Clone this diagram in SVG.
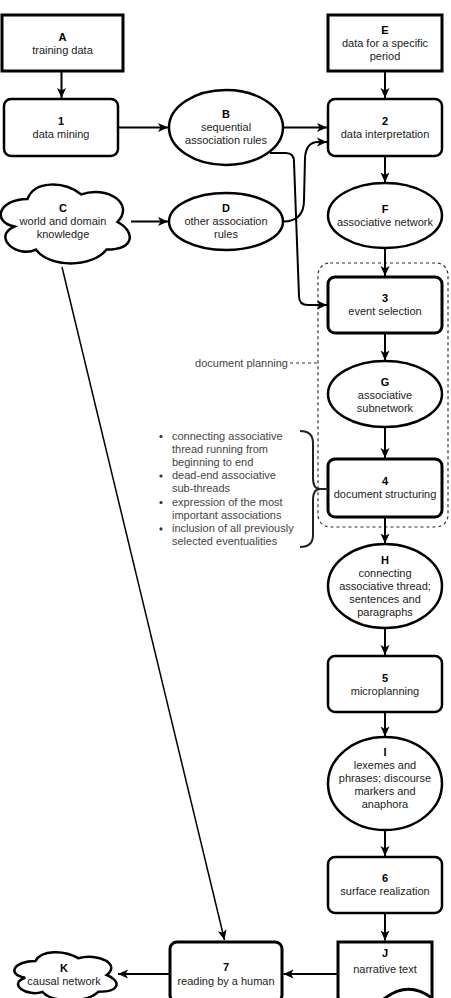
<svg xmlns="http://www.w3.org/2000/svg" width="451" height="998" viewBox="0 0 451 998">
<defs>
<style>
.n{fill:#fff;stroke:#000;stroke-width:2.5}
.nb{fill:#fff;stroke:#000;stroke-width:3}
.t{font-family:"Liberation Sans",Arial,Helvetica,sans-serif;font-size:11px;fill:#222;text-anchor:middle}
.b{font-weight:bold;fill:#000}
.a{font-family:"Liberation Sans",Arial,Helvetica,sans-serif;font-size:11px;fill:#444}
.e{fill:none;stroke:#000;stroke-width:2;marker-end:url(#arr)}
.e1{fill:none;stroke:#000;stroke-width:1.5;marker-end:url(#arr)}
</style>
<marker id="arr" markerUnits="userSpaceOnUse" markerWidth="10" markerHeight="10" viewBox="0 0 10 10" refX="10" refY="5" orient="auto">
<path d="M0,0.5 L10,5 L0,9.5 L2.5,5 Z" fill="#000"/>
</marker>
</defs>
<rect width="451" height="998" fill="#fff"/>

<g id="group-document-planning">
<rect x="318" y="263" width="130" height="264" rx="12" fill="none" stroke="#333" stroke-width="1.2" stroke-dasharray="3,3"/>
<line x1="290" y1="363" x2="318" y2="363" stroke="#333" stroke-width="1.2" stroke-dasharray="3,3"/>
<text class="a" x="288" y="366.5" text-anchor="end">document planning</text>
</g>

<g id="connectors">
<line class="e" x1="61.5" y1="71" x2="61.5" y2="98"/>
<line class="e" x1="118" y1="127.5" x2="168" y2="127.5"/>
<line class="e" x1="283" y1="127.5" x2="327" y2="127.5"/>
<line class="e" x1="131" y1="221.5" x2="168" y2="221.5"/>
<path class="e" d="M283,221.5 Q304,221.5 304,200 L305,158 Q306,142 318,142 L327,142"/>
<path class="e" d="M270,153 L286,153 Q294,153 294,162 L299,296 Q299,305 308,305 L327,305"/>
<line class="e" x1="385" y1="71" x2="385" y2="98"/>
<line class="e" x1="385" y1="156" x2="385" y2="182.5"/>
<line class="e" x1="385" y1="248" x2="385" y2="276"/>
<line class="e" x1="385" y1="333" x2="385" y2="360.5"/>
<line class="e" x1="385" y1="427" x2="385" y2="458"/>
<line class="e" x1="385" y1="517" x2="385" y2="543.5"/>
<line class="e" x1="385" y1="628" x2="385" y2="655"/>
<line class="e" x1="385" y1="712" x2="385" y2="736.5"/>
<line class="e" x1="385" y1="830" x2="385" y2="856"/>
<line class="e" x1="385" y1="913" x2="385" y2="940.5"/>
<line class="e1" x1="62" y1="267" x2="224.5" y2="940"/>
<line class="e" x1="338" y1="974" x2="283.5" y2="974"/>
<line class="e" x1="170" y1="974" x2="118" y2="974"/>
</g>

<g id="node-A">
<rect class="nb" x="2" y="15" width="121" height="56"/>
<text class="t b" x="62.5" y="40.5">A</text>
<text class="t" x="62.5" y="53.5">training data</text>
</g>
<g id="node-1">
<rect class="n" x="4" y="99" width="114" height="57" rx="7"/>
<text class="t b" x="61" y="124.5">1</text>
<text class="t" x="61" y="137.5">data mining</text>
</g>
<g id="node-E">
<rect class="nb" x="328" y="15" width="114" height="56"/>
<text class="t b" x="385" y="33.5">E</text>
<text class="t" x="385" y="46.5">data for a specific</text>
<text class="t" x="385" y="59.5">period</text>
</g>
<g id="node-2">
<rect class="n" x="328" y="99" width="114" height="57" rx="7"/>
<text class="t b" x="385" y="124.5">2</text>
<text class="t" x="385" y="137.5">data interpretation</text>
</g>
<g id="node-B">
<ellipse class="n" cx="226" cy="127.5" rx="57" ry="37.5"/>
<text class="t b" x="226" y="118">B</text>
<text class="t" x="226" y="131">sequential</text>
<text class="t" x="226" y="144">association rules</text>
</g>
<g id="node-C">
<path class="n" d="M27.4,199 C-1.4,199 -8.6,222 14.4,226.6 C-8.6,236.7 17.3,258.8 36,249.6 C49,268 92.2,268 106.6,249.6 C135.4,249.6 135.4,231.2 117.4,222 C135.4,203.6 106.6,185.2 81.4,194.4 C63.4,180.6 34.6,180.6 27.4,199 Z"/>
<text class="t b" x="63" y="212">C</text>
<text class="t" x="63" y="225">world and domain</text>
<text class="t" x="63" y="238">knowledge</text>
</g>
<g id="node-D">
<ellipse class="n" cx="226" cy="221.5" rx="57" ry="28.5"/>
<text class="t b" x="226" y="212">D</text>
<text class="t" x="226" y="225">other association</text>
<text class="t" x="226" y="238">rules</text>
</g>
<g id="node-F">
<ellipse class="n" cx="385" cy="215.5" rx="57" ry="32.5"/>
<text class="t b" x="385" y="212.5">F</text>
<text class="t" x="385" y="225.5">associative network</text>
</g>
<g id="node-3">
<rect class="nb" x="328" y="277" width="114" height="56" rx="7"/>
<text class="t b" x="385" y="302">3</text>
<text class="t" x="385" y="315">event selection</text>
</g>
<g id="node-G">
<ellipse class="n" cx="385" cy="394" rx="57" ry="33"/>
<text class="t b" x="385" y="385.5">G</text>
<text class="t" x="385" y="398.5">associative</text>
<text class="t" x="385" y="411.5">subnetwork</text>
</g>
<g id="node-4">
<rect class="nb" x="328" y="459" width="114" height="58" rx="7"/>
<text class="t b" x="385" y="485">4</text>
<text class="t" x="385" y="498">document structuring</text>
</g>
<g id="node-H">
<ellipse class="n" cx="385" cy="586" rx="57" ry="42"/>
<text class="t b" x="385" y="563.5">H</text>
<text class="t" x="385" y="576.5">connecting</text>
<text class="t" x="385" y="589.5">associative thread;</text>
<text class="t" x="385" y="602.5">sentences and</text>
<text class="t" x="385" y="615.5">paragraphs</text>
</g>
<g id="node-5">
<rect class="n" x="328" y="656" width="114" height="56" rx="7"/>
<text class="t b" x="385" y="681.5">5</text>
<text class="t" x="385" y="694.5">microplanning</text>
</g>
<g id="node-I">
<ellipse class="n" cx="385" cy="783.5" rx="57" ry="46.5"/>
<text class="t b" x="385" y="755.5">I</text>
<text class="t" x="385" y="768.5">lexemes and</text>
<text class="t" x="385" y="781.5">phrases; discourse</text>
<text class="t" x="385" y="794.5">markers and</text>
<text class="t" x="385" y="807.5">anaphora</text>
</g>
<g id="node-6">
<rect class="n" x="328" y="857" width="114" height="56" rx="7"/>
<text class="t b" x="385" y="882">6</text>
<text class="t" x="385" y="895">surface realization</text>
</g>
<g id="node-J">
<path class="nb" d="M338,942 L432,942 L432,998.1 Q408.5,980.3 385,998.1 Q361.5,1015.9 338,998.1 Z"/>
<text class="t b" x="385" y="957">J</text>
<text class="t" x="385" y="972.5">narrative text</text>
</g>
<g id="node-7">
<rect class="nb" x="170" y="942" width="112" height="60" rx="7"/>
<text class="t b" x="226" y="971">7</text>
<text class="t" x="226" y="984.5">reading by a human</text>
</g>
<g id="node-K">
<path class="n" d="M35.5,961 C12.7,961 7,975 25.24,977.8 C7,983.96 27.52,997.4 42.34,991.8 C52.6,1003 86.8,1003 98.2,991.8 C121,991.8 121,980.6 106.75,975 C121,963.8 98.2,952.6 78.25,958.2 C64,949.8 41.2,949.8 35.5,961 Z"/>
<text class="t b" x="64" y="972">K</text>
<text class="t" x="64" y="984.5">causal network</text>
</g>

<g id="annotation-list">
<path d="M300,431 Q313,431 313,443 L313,478 Q313,489 320,489 L328,489 M320,489 Q313,489 313,500 L313,535 Q313,547 300,547" fill="none" stroke="#222" stroke-width="2"/>
<g fill="#333">
<circle cx="161" cy="436.5" r="1.6"/>
<circle cx="161" cy="476" r="1.6"/>
<circle cx="161" cy="502.5" r="1.6"/>
<circle cx="161" cy="528.9" r="1.6"/>
</g>
<text class="a" x="172" y="439.5">connecting associative</text>
<text class="a" x="172" y="452.7">thread running from</text>
<text class="a" x="172" y="465.9">beginning to end</text>
<text class="a" x="172" y="479.1">dead-end associative</text>
<text class="a" x="172" y="492.3">sub-threads</text>
<text class="a" x="172" y="505.5">expression of the most</text>
<text class="a" x="172" y="518.7">important associations</text>
<text class="a" x="172" y="531.9">inclusion of all previously</text>
<text class="a" x="172" y="545.1">selected eventualities</text>
</g>
</svg>
